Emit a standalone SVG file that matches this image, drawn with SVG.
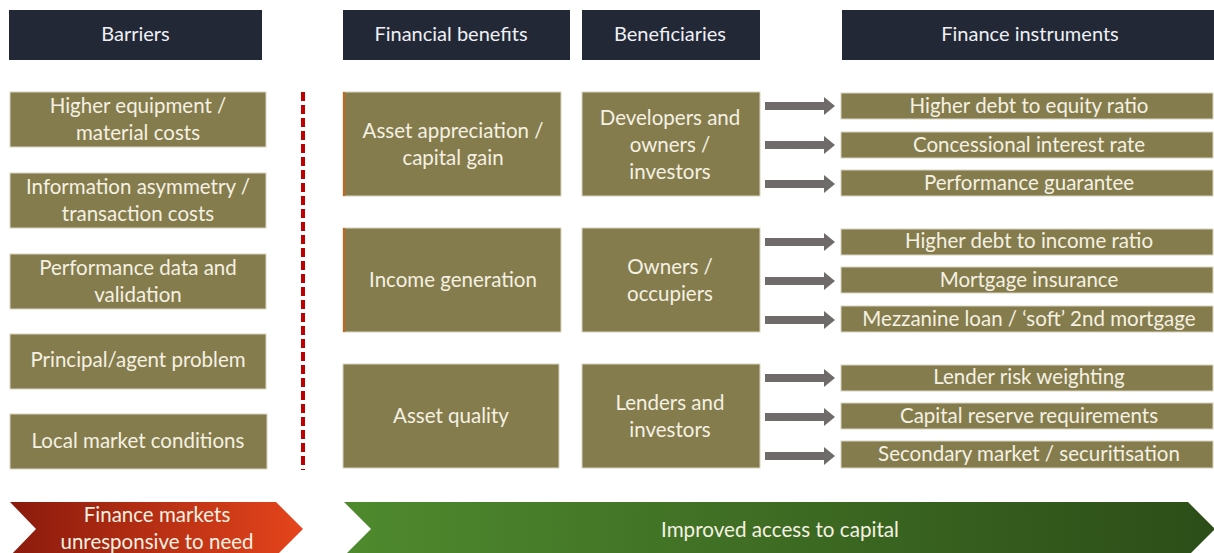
<svg xmlns="http://www.w3.org/2000/svg" width="1214" height="553" viewBox="0 0 1214 553">
<defs>
<style>
.hdr{fill:#222836;}
.box{fill:#857c4d;stroke:#d8d4c0;stroke-width:1;}
.t{font-family:Lato,"Liberation Sans",sans-serif;font-size:20.5px;fill:#f4f1e2;text-anchor:middle;}
.th{font-family:Lato,"Liberation Sans",sans-serif;font-size:20px;fill:#eef0f4;text-anchor:middle;}
.arr{fill:#6f6b6b;}
</style>
<linearGradient id="gRed" x1="0" y1="0" x2="1" y2="0">
<stop offset="0" stop-color="#8a1a0c"/>
<stop offset="1" stop-color="#e5451c"/>
</linearGradient>
<linearGradient id="gGreen" x1="0" y1="0" x2="1" y2="0">
<stop offset="0" stop-color="#4f8a2e"/>
<stop offset="1" stop-color="#2c4d18"/>
</linearGradient>
<path id="arrow" d="M0,-4 H59 V-9 L70,0 L59,9 V4 H0 Z"/>
</defs>
<rect width="1214" height="553" fill="#ffffff"/>

<g id="headers">
<g id="h-barriers"><rect class="hdr" x="9" y="10" width="253" height="50"/><text class="th" x="135.5" y="41">Barriers</text></g>
<g id="h-benefits"><rect class="hdr" x="343" y="10" width="227" height="50"/><text class="th" x="451" y="41">Financial benefits</text></g>
<g id="h-beneficiaries"><rect class="hdr" x="582" y="10" width="178" height="50"/><text class="th" x="670" y="41">Beneficiaries</text></g>
<g id="h-instruments"><rect class="hdr" x="842" y="10" width="372" height="50"/><text class="th" x="1030" y="41">Finance instruments</text></g>
</g>

<g id="barriers">
<g id="b1"><rect class="box" x="10" y="92" width="256" height="55"/><text class="t" x="138" y="113">Higher equipment /</text><text class="t" x="138" y="140">material costs</text></g>
<g id="b2"><rect class="box" x="10" y="173" width="256" height="55"/><text class="t" x="138" y="194">Information asymmetry /</text><text class="t" x="138" y="221">transaction costs</text></g>
<g id="b3"><rect class="box" x="10" y="254" width="256" height="55"/><text class="t" x="138" y="275">Performance data and</text><text class="t" x="138" y="302">validation</text></g>
<g id="b4"><rect class="box" x="10" y="334" width="256" height="55"/><text class="t" x="138" y="367">Principal/agent problem</text></g>
<g id="b5"><rect class="box" x="10" y="414" width="257" height="55"/><text class="t" x="138" y="448">Local market conditions</text></g>
</g>

<g id="divider"><line x1="303" y1="92" x2="303" y2="470" stroke="#c00000" stroke-width="4" stroke-dasharray="9,4"/></g>

<g id="benefits">
<g id="fb1"><rect class="box" x="343" y="92" width="218" height="104"/><rect x="343" y="92" width="2" height="104" fill="#c8641e"/><text class="t" x="453" y="138">Asset appreciation /</text><text class="t" x="453" y="165">capital gain</text></g>
<g id="fb2"><rect class="box" x="343" y="228" width="218" height="104"/><rect x="343" y="228" width="2" height="104" fill="#c8641e"/><text class="t" x="453" y="287">Income generation</text></g>
<g id="fb3"><rect class="box" x="343" y="364" width="216" height="104"/><text class="t" x="451" y="423">Asset quality</text></g>
</g>

<g id="beneficiaries">
<g id="bn1"><rect class="box" x="582" y="92" width="178" height="104"/><text class="t" x="670" y="125">Developers and</text><text class="t" x="670" y="152">owners /</text><text class="t" x="670" y="179">investors</text></g>
<g id="bn2"><rect class="box" x="582" y="228" width="178" height="104"/><text class="t" x="670" y="274">Owners /</text><text class="t" x="670" y="301">occupiers</text></g>
<g id="bn3"><rect class="box" x="582" y="364" width="178" height="104"/><text class="t" x="670" y="410">Lenders and</text><text class="t" x="670" y="437">investors</text></g>
</g>

<g id="connectors">
<use href="#arrow" class="arr" x="765" y="106"/>
<use href="#arrow" class="arr" x="765" y="145"/>
<use href="#arrow" class="arr" x="765" y="184"/>
<use href="#arrow" class="arr" x="765" y="242"/>
<use href="#arrow" class="arr" x="765" y="281"/>
<use href="#arrow" class="arr" x="765" y="320"/>
<use href="#arrow" class="arr" x="765" y="378"/>
<use href="#arrow" class="arr" x="765" y="417"/>
<use href="#arrow" class="arr" x="765" y="456"/>
</g>

<g id="instruments">
<g id="i1"><rect class="box" x="841" y="93" width="372" height="26"/><text class="t" x="1029" y="113">Higher debt to equity ratio</text></g>
<g id="i2"><rect class="box" x="841" y="132" width="372" height="26"/><text class="t" x="1029" y="152">Concessional interest rate</text></g>
<g id="i3"><rect class="box" x="841" y="170" width="372" height="26"/><text class="t" x="1029" y="190">Performance guarantee</text></g>
<g id="i4"><rect class="box" x="841" y="229" width="372" height="26"/><text class="t" x="1029" y="248">Higher debt to income ratio</text></g>
<g id="i5"><rect class="box" x="841" y="267" width="372" height="26"/><text class="t" x="1029" y="287">Mortgage insurance</text></g>
<g id="i6"><rect class="box" x="841" y="306" width="372" height="26"/><text class="t" x="1029" y="326">Mezzanine loan / ‘soft’ 2nd mortgage</text></g>
<g id="i7"><rect class="box" x="841" y="365" width="372" height="26"/><text class="t" x="1029" y="384">Lender risk weighting</text></g>
<g id="i8"><rect class="box" x="841" y="403" width="372" height="26"/><text class="t" x="1029" y="423">Capital reserve requirements</text></g>
<g id="i9"><rect class="box" x="841" y="441" width="372" height="27"/><text class="t" x="1029" y="461">Secondary market / securitisation</text></g>
</g>

<g id="chevron-red"><path d="M10,502 H276 L303,529 L276,556 H10 L36,529 Z" fill="url(#gRed)"/><text class="t" x="157" y="522">Finance markets</text><text class="t" x="157" y="549">unresponsive to need</text></g>
<g id="chevron-green"><path d="M344,502 H1188 L1215,529 L1188,556 H344 L371,529 Z" fill="url(#gGreen)"/><text class="t" x="780" y="537" textLength="238" lengthAdjust="spacingAndGlyphs">Improved access to capital</text></g>
</svg>
